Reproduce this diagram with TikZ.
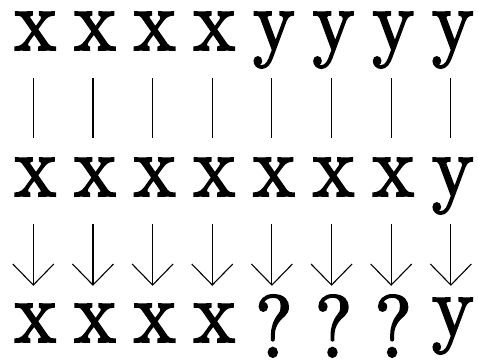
\documentclass[tikz,border=0pt]{standalone}
\usepackage{fontspec}
\newfontfamily\glyphfont[FakeStretch=0.9,FakeBold=2.2]{lmroman10-regular.otf}
\usetikzlibrary{arrows.meta}
\tikzset{
  glyph/.style={anchor=base, inner sep=0pt, text height=46pt, text depth=16pt,
    font=\fontsize{88}{88}\glyphfont},
  bar/.style={line width=1.1pt, shorten <=12pt, shorten >=12pt},
  arr/.style={line width=1.1pt, -{Straight Barb[length=21pt,width=41pt]},
    shorten <=12pt, shorten >=10pt}
}
\newcommand{\qlow}{\raisebox{-15pt}{?}}
\newcommand{\yhigh}{\raisebox{6pt}{y}}
\begin{document}
\begin{tikzpicture}[x=1pt,y=-1pt]
\useasboundingbox (0,0) rectangle (478,359);
\foreach \i/\a/\b/\c in {1/x/x/x,2/x/x/x,3/x/x/x,4/x/x/x,5/y/x/\qlow,6/y/x/\qlow,7/y/x/\qlow,8/y/y/\yhigh}{
  \pgfmathsetmacro{\cx}{33.3+59.65*(\i-1)}
  \coordinate (col\i) at (\cx,0);
  \node[glyph] (a\i) at (\cx+2,50) {\a};
  \node[glyph] (b\i) at (\cx+2,196) {\b};
  \node[glyph] (c\i) at (\cx+2,342) {\c};
  \draw[bar] (col\i |- a\i.south) -- (col\i |- b\i.north);
  \draw[arr] (col\i |- b\i.south) -- (col\i |- c\i.north);
}
\end{tikzpicture}
\end{document}
